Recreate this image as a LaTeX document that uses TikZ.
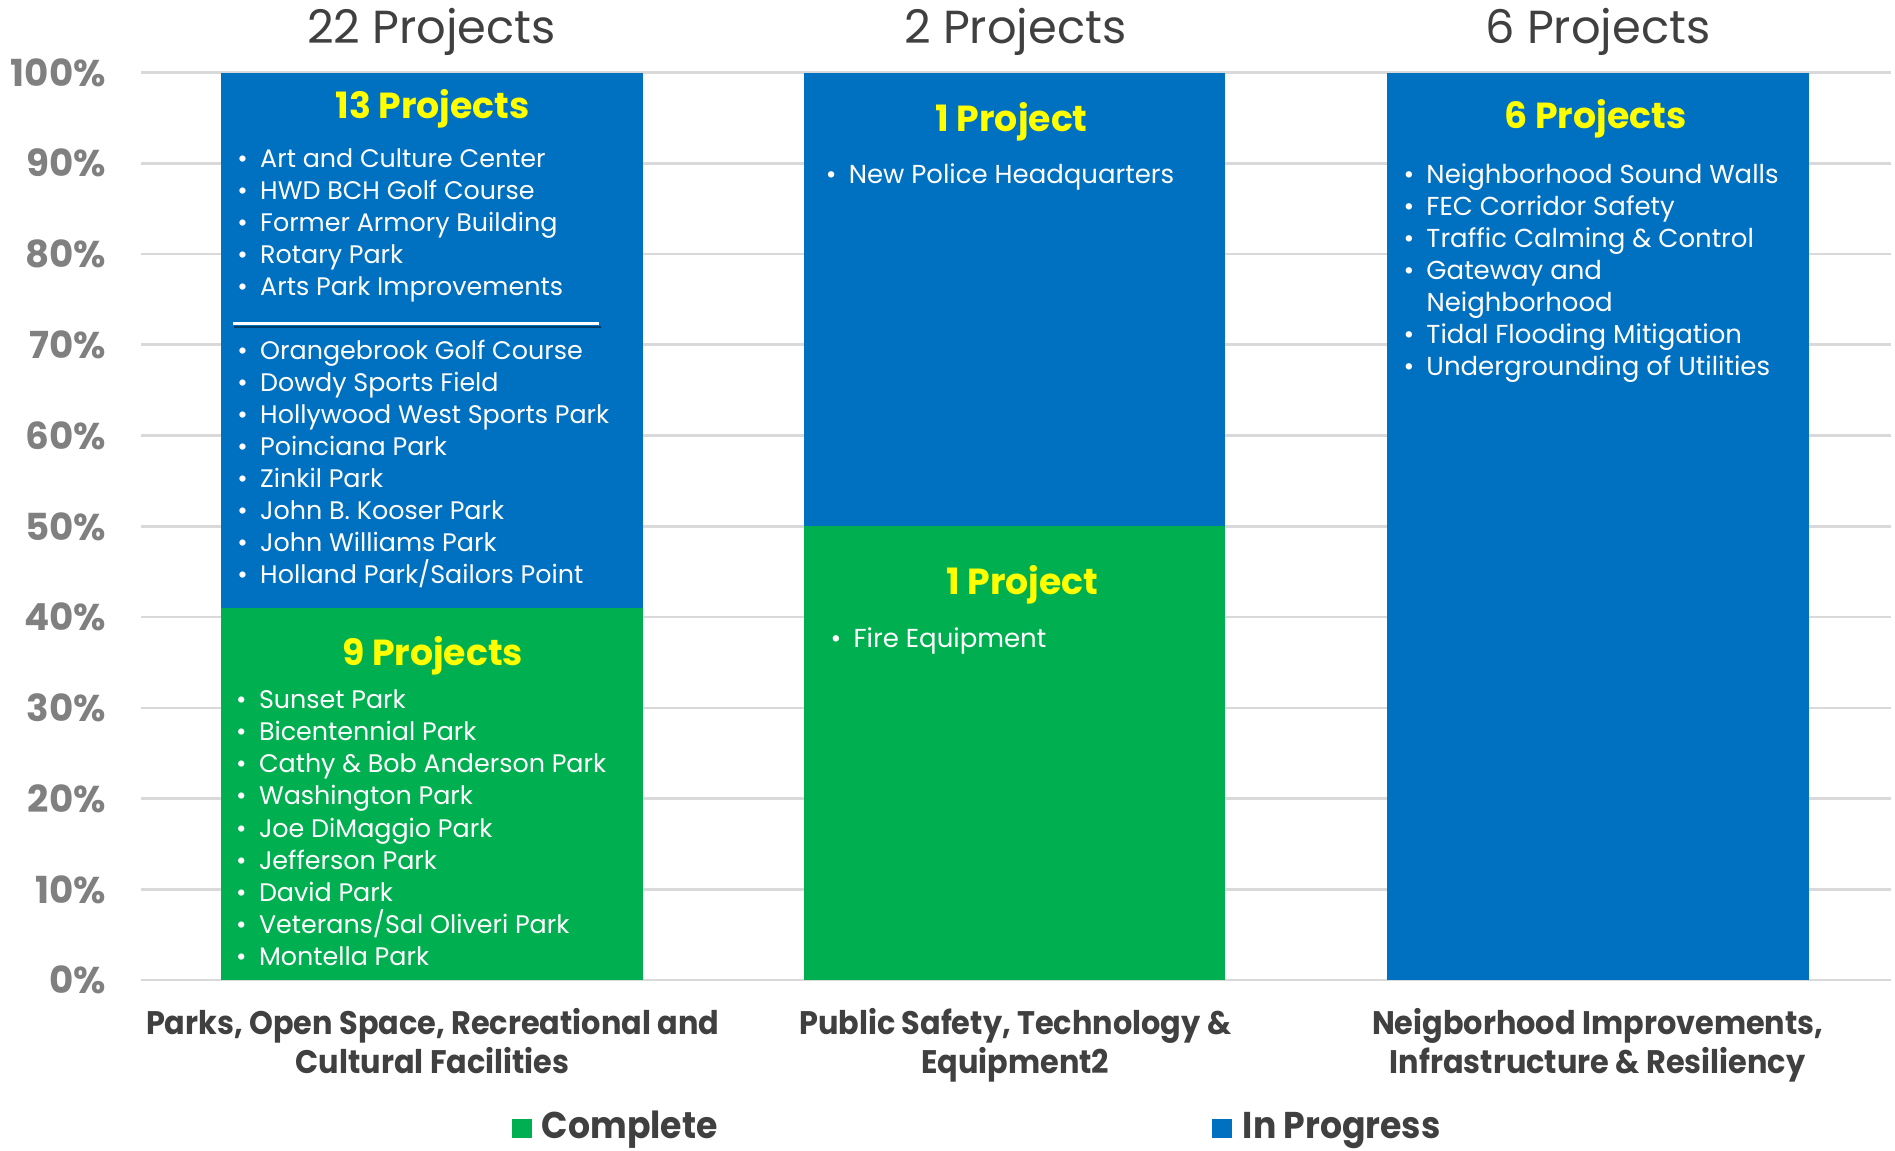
\documentclass[tikz,border=0pt]{standalone}
\usepackage{fontspec}
\setmainfont{Poppins}
\newfontfamily\catf{Poppins}[FakeStretch=0.93]
\definecolor{cblue}{HTML}{0070C0}
\definecolor{cgreen}{HTML}{00B050}
\definecolor{cyel}{HTML}{FFFF00}
\definecolor{gridc}{HTML}{D9D9D9}
\definecolor{tickc}{HTML}{808080}
\definecolor{darkc}{HTML}{404040}
\tikzset{
  gridline/.style={draw=gridc, line width=1.3pt},
  ticklab/.style={anchor=east, inner sep=0pt, text=tickc, font=\bfseries\fontsize{18.5}{18.5}\selectfont},
  toptitle/.style={anchor=base, inner sep=0pt, text=darkc, font=\fontsize{23}{23}\selectfont},
  head/.style={anchor=base, inner sep=0pt, text=cyel, font=\bfseries\fontsize{18}{18}\selectfont},
  bulc/.style={anchor=mid west, inner sep=0pt, text=white, font=\fontsize{12.6}{12.6}\selectfont},
  bulr/.style={anchor=mid west, inner sep=0pt, text=white, font=\fontsize{12.9}{12.9}\selectfont},
  catlab/.style={anchor=base, inner sep=0pt, text=darkc, align=center, font=\catf\bfseries\fontsize{16.2}{19.2}\selectfont},
  leglab/.style={anchor=base west, inner sep=0pt, text=darkc, font=\catf\bfseries\fontsize{18.5}{18.5}\selectfont},
}
\newcommand\bulletlist[5]{%
  \foreach \t [count=\k] in {#5}{%
    \node[#2] (#1\k) at (#3,{#4+(\k-1)*26.5}) {\makebox[11.4pt][l]{\textbullet}\t};
  }}
\begin{document}
\begin{tikzpicture}[x=0.6pt,y=-0.6pt]
\useasboundingbox (0,0) rectangle (1568,952);
% gridlines and tick labels
\foreach \p in {0,...,10}{
  \draw[gridline] (117,{811-\p*75.1}) -- (1565,{811-\p*75.1});
  \node[ticklab] (tick\p) at (88,{811-\p*75.1}) {\the\numexpr\p*10\relax\%};
}
% bars
\fill[cgreen] (183,503) rectangle (532,811);
\fill[cblue] (183,60) rectangle (532,503);
\fill[cgreen] (665,435) rectangle (1014,811);
\fill[cblue] (665,60) rectangle (1014,435);
\fill[cblue] (1148,60) rectangle (1497,811);
% top titles
\node[toptitle] (t1) at (357,36) {22 Projects};
\node[toptitle] (t2) at (840,36) {2 Projects};
\node[toptitle] (t3) at (1322,36) {6 Projects};
% bar 1
\node[head] (h1b) at (358,98) {13 Projects};
\bulletlist{ba}{bulc}{196}{134}{Art and Culture Center,HWD BCH Golf Course,Former Armory Building,Rotary Park,Arts Park Improvements}
\draw[cblue!55!black, line width=1.2pt] (194,270.5) -- (497,270.5);
\draw[white, line width=1.5pt] (193,268) -- (496,268);
\bulletlist{bb}{bulc}{196}{293}{Orangebrook Golf Course,Dowdy Sports Field,Hollywood West Sports Park,Poinciana Park,Zinkil Park,John B. Kooser Park,John Williams Park,Holland Park/Sailors Point}
\node[head] (h1g) at (358,551) {9 Projects};
\bulletlist{bg}{bulc}{195}{582}{Sunset Park,Bicentennial Park,Cathy \& Bob Anderson Park,Washington Park,Joe DiMaggio Park,Jefferson Park,David Park,Veterans/Sal Oliveri Park,Montella Park}
% bar 2
\node[head] (h2b) at (837,109) {1 Project};
\node[bulr] (pa1) at (683,147) {\makebox[11.4pt][l]{\textbullet}New Police Headquarters};
\node[head] (h2g) at (846,492) {1 Project};
\node[bulr] (pg1) at (687,531) {\makebox[11.4pt][l]{\textbullet}Fire Equipment};
% bar 3
\node[head] (h3b) at (1320,106) {6 Projects};
\node[bulr] (na1) at (1161,147) {\makebox[11.4pt][l]{\textbullet}Neighborhood Sound Walls};
\node[bulr] (na2) at (1161,173.5) {\makebox[11.4pt][l]{\textbullet}FEC Corridor Safety};
\node[bulr] (na3) at (1161,200) {\makebox[11.4pt][l]{\textbullet}Traffic Calming \& Control};
\node[bulr] (na4) at (1161,226.5) {\makebox[11.4pt][l]{\textbullet}Gateway and};
\node[bulr] (na4b) at (1161,253) {\makebox[11.4pt][l]{}Neighborhood};
\node[bulr] (na5) at (1161,279.5) {\makebox[11.4pt][l]{\textbullet}Tidal Flooding Mitigation};
\node[bulr] (na6) at (1161,306) {\makebox[11.4pt][l]{\textbullet}Undergrounding of Utilities};
% category labels
\node[catlab] (c1) at (358,888) {Parks, Open Space, Recreational and\\Cultural Facilities};
\node[catlab] (c2) at (840,888) {Public Safety, Technology \&\\Equipment2};
\node[catlab] (c3) at (1322,888) {Neigborhood Improvements,\\Infrastructure \& Resiliency};
% legend
\fill[cgreen] (424,926) rectangle (440,942);
\node[leglab] (lg1) at (448,942) {Complete};
\fill[cblue] (1003,926) rectangle (1019,942);
\node[leglab] (lg2) at (1028,942) {In Progress};
\end{tikzpicture}
\end{document}
